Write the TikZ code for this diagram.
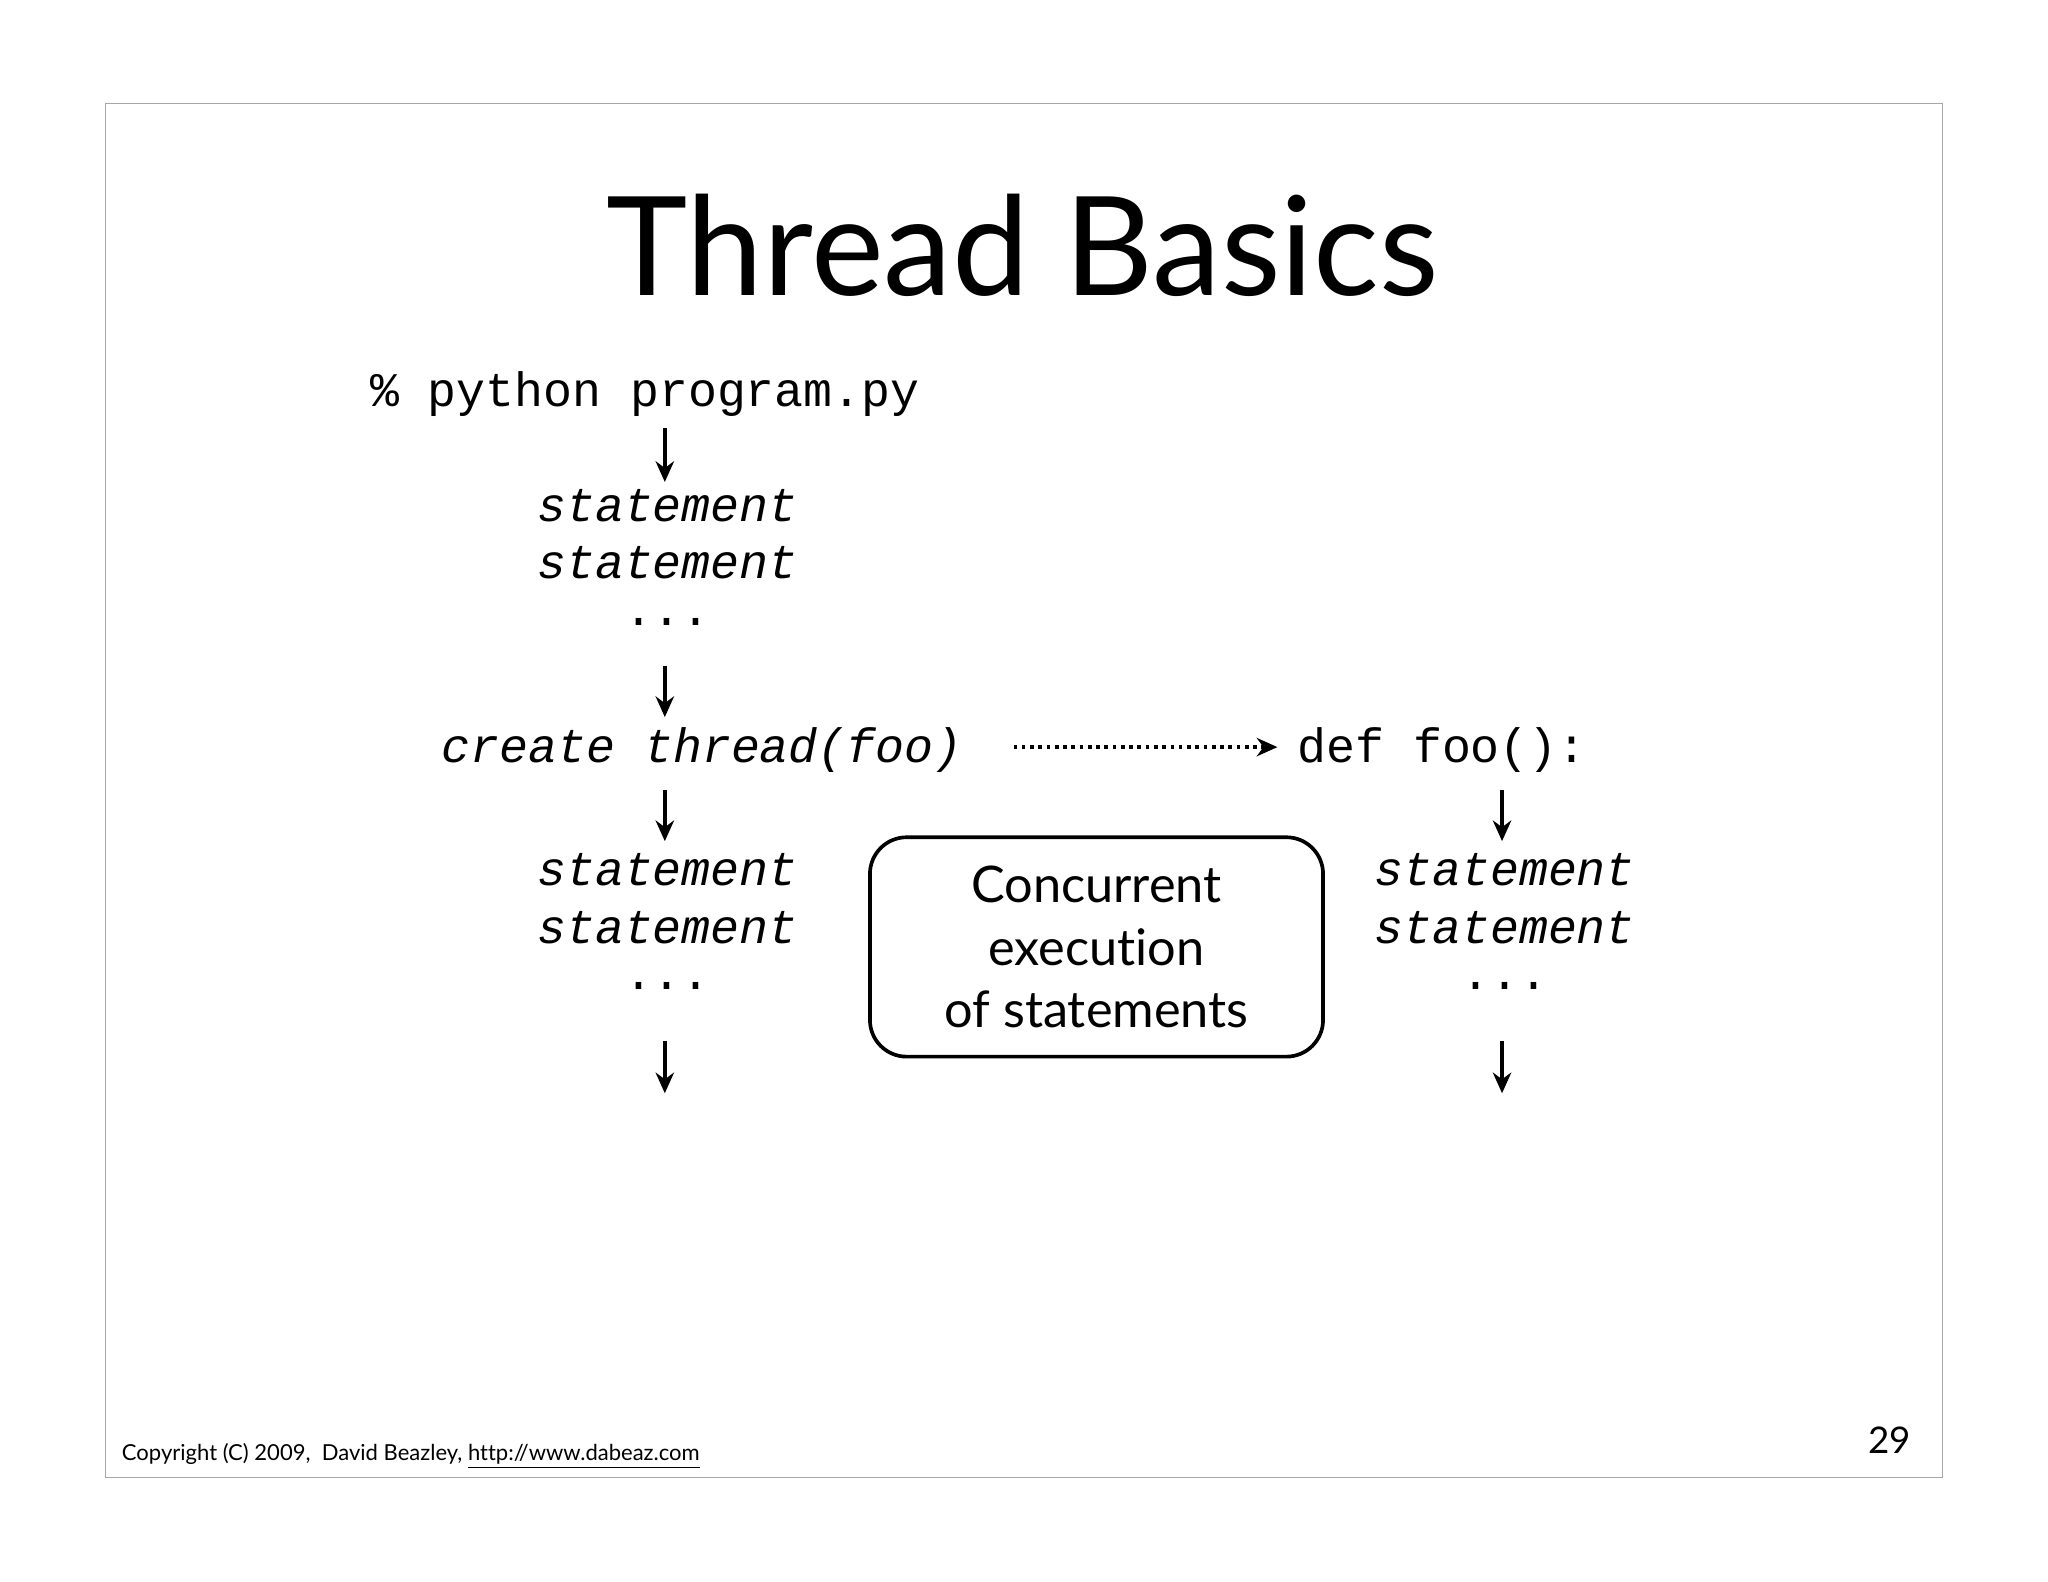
\documentclass[tikz,border=0pt]{standalone}
\usepackage{fontspec}
\setmainfont{Lato}[Ligatures={NoCommon,NoDiscretionary}]
\setmonofont{Liberation Mono}
\usetikzlibrary{arrows.meta}
\begin{document}
\begin{tikzpicture}[x=0.02cm,y=-0.02cm,
  code/.style={font=\fontsize{21}{24}\ttfamily,inner sep=0pt},
  icode/.style={font=\fontsize{21}{24}\ttfamily\itshape,inner sep=0pt},
  arr/.style={line width=1.6pt,-{Stealth[length=9pt,width=8pt]}}]
\useasboundingbox (0,0) rectangle (1568,1211);
\fill[white] (0,0) rectangle (1568,1211);
\draw[gray!70,line width=0.6pt] (81,79) rectangle (1487,1131);
\node[font=\fontsize{60}{64}\selectfont,inner sep=0pt] (title) at (783,188) {Thread Basics};
\node[code,anchor=west] (cmd) at (283,302) {\% python program.py};
\coordinate (a1s) at (509,328); \coordinate (a1e) at (509,369);
\draw[arr] (a1s) -- (a1e);
\node[icode] (s1) at (511,387) {statement};
\node[icode] (s2) at (511,431) {statement};
\node[code] (d1) at (511,476) {...};
\coordinate (a2s) at (509,510); \coordinate (a2e) at (509,549);
\draw[arr] (a2s) -- (a2e);
\node[icode,anchor=west] (ct) at (338,574) {create thread(foo)};
\node[code,anchor=west] (df) at (993,574) {def foo():};
\coordinate (da) at (776,572); \coordinate (db) at (978,572);
\draw[line width=1.6pt,dotted,-{Stealth[length=9pt,width=8pt]}] (da) -- (db);
\foreach \x/\n in {509/L,1150/R}{
  \coordinate (b\n s) at (\x,605); \coordinate (b\n e) at (\x,644);
  \draw[arr] (b\n s) -- (b\n e);
  \node[icode] (t1\n) at (\x+2,666) {statement};
  \node[icode] (t2\n) at (\x+2,710) {statement};
  \node[code] (t3\n) at (\x+2,755) {...};
  \coordinate (c\n s) at (\x,797); \coordinate (c\n e) at (\x,837);
  \draw[arr] (c\n s) -- (c\n e);
}
\node[draw,line width=1.6pt,rounded corners=16pt,minimum width=6.94cm,
  minimum height=3.36cm,inner sep=0pt] (box) at (839.5,725) {};
\node[font=\fontsize{22}{27.3}\selectfont,align=center,inner sep=0pt] (boxtext) at (box.center) {Concurrent\\execution\\of statements};
\node[anchor=west,font=\fontsize{9.6}{11}\selectfont,inner sep=0pt] (copy) at (93,1115) {Copyright (C) 2009,\ \ David Beazley, \underline{http://www.dabeaz.com}};
\node[font=\fontsize{16}{18}\selectfont,inner sep=0pt] (num) at (1447,1103) {29};
\end{tikzpicture}
\end{document}
